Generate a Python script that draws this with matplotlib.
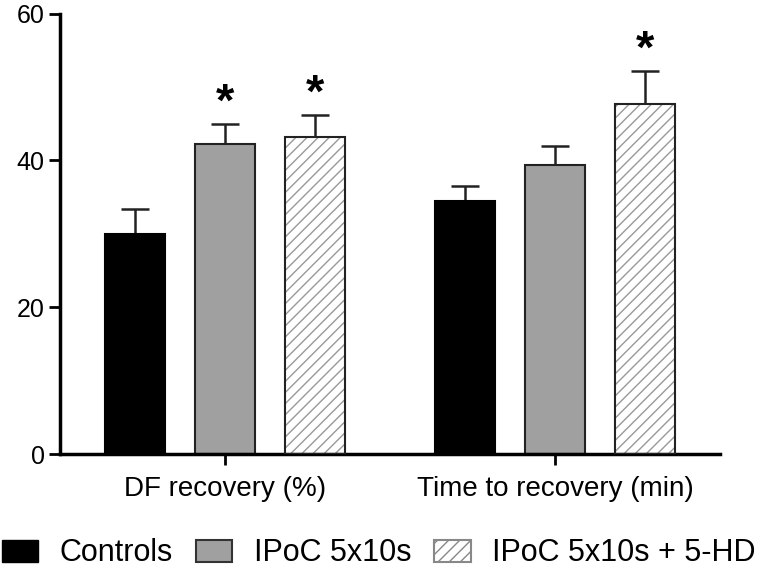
import numpy as np
import matplotlib
matplotlib.use("Agg")
import matplotlib.pyplot as plt
from matplotlib.patches import Patch

plt.rcParams['font.family'] = ['Liberation Sans', 'DejaVu Sans']

# data
categories = ['DF recovery (%)', 'Time to recovery (min)']
groups = ['Controls', 'IPoC 5x10s', 'IPoC 5x10s + 5-HD']
means = [[30.0, 34.4],
         [42.2, 39.3],
         [43.2, 47.7]]
sem = [[3.4, 2.1],
       [2.8, 2.7],
       [3.0, 4.5]]
signif = [[False, False],
          [True, False],
          [True, True]]

fig = plt.figure(figsize=(7.7, 5.7), dpi=100)
ax = fig.add_axes([60/770, 1-454/570, 660/770, (454-13.5)/570])

x = np.arange(len(categories))
width = 60/330
offsets = [-90/330, 0, 90/330]

for i, g in enumerate(groups):
	pos = x + offsets[i]
	if i == 0:
		ax.bar(pos, means[i], width, color='black', edgecolor='black', lw=1.5, zorder=2)
	elif i == 1:
		ax.bar(pos, means[i], width, color='#a0a0a0', edgecolor='#222222', lw=1.5, zorder=2)
	else:
		ax.bar(pos, means[i], width, color='white', edgecolor='#999999', hatch='///', lw=0, zorder=2)
		ax.bar(pos, means[i], width, fill=False, edgecolor='#222222', lw=1.5, zorder=3)
	ax.errorbar(pos, means[i], yerr=[np.zeros(len(x)), sem[i]], fmt='none',
		ecolor='#222222', elinewidth=1.8, capsize=10, capthick=1.8, zorder=1)
	for j in range(len(x)):
		if signif[i][j]:
			ax.annotate('*', xy=(pos[j], means[i][j] + sem[i][j]), xytext=(0, 6),
				textcoords='offset points', ha='center', va='baseline',
				fontsize=34, fontweight='bold')

ax.set_xlim(-0.5, 1.5)
ax.set_ylim(0, 60)
ax.set_yticks([0, 20, 40, 60])
ax.set_xticks(x)
ax.set_xticklabels(categories, fontsize=20)
ax.tick_params(axis='y', labelsize=18, width=2, length=8, pad=3)
ax.tick_params(axis='x', width=2, length=8, pad=8)
for s in ['top', 'right']:
	ax.spines[s].set_visible(False)
for s in ['left', 'bottom']:
	ax.spines[s].set_linewidth(2.5)

handles = [Patch(facecolor='black', edgecolor='black'),
	Patch(facecolor='#a0a0a0', edgecolor='#333333', lw=1.5),
	Patch(facecolor='white', edgecolor='#888888', hatch='///', lw=1.5)]
fig.legend(handles, groups, loc='lower left', bbox_to_anchor=(0.0, 0.0), ncol=3,
	frameon=False, fontsize=22, handlelength=1.2, handleheight=0.75,
	handletextpad=0.7, columnspacing=0.75, borderpad=0.05, borderaxespad=0)

plt.savefig('out.png', dpi=100)
